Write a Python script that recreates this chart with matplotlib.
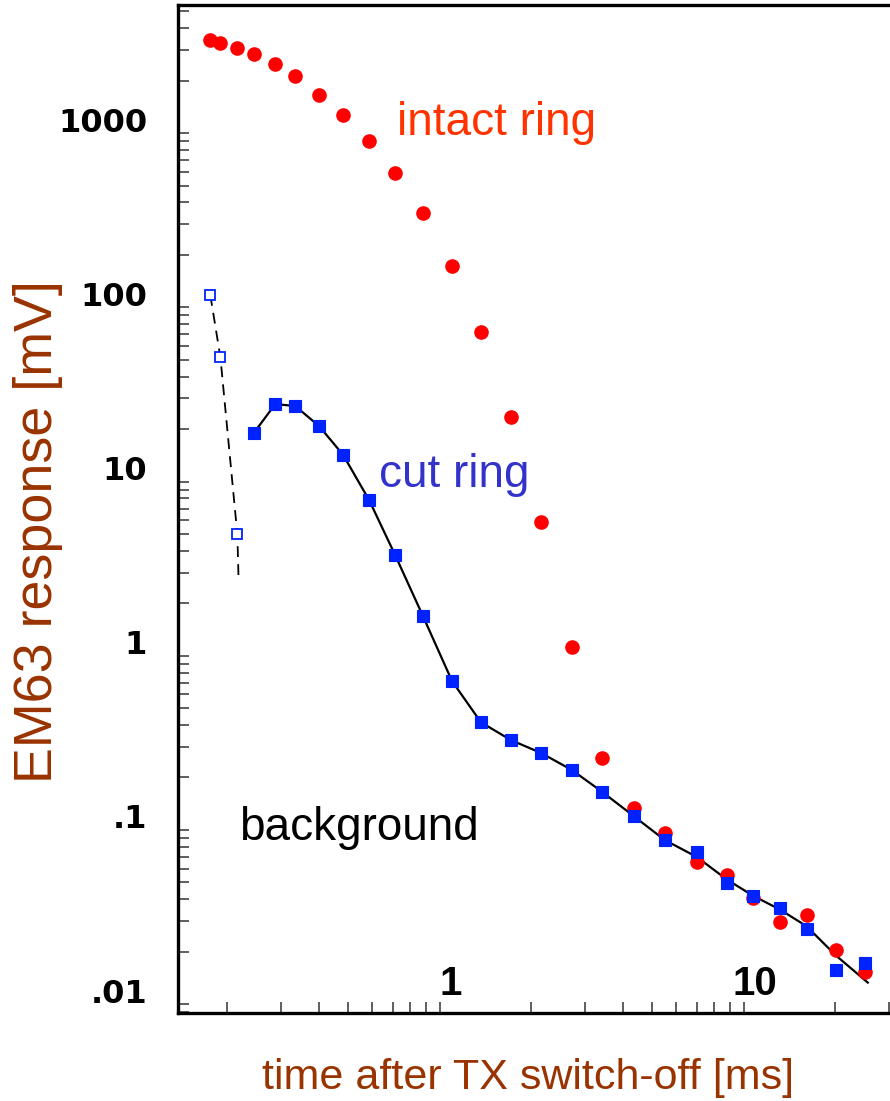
"""EM63 decay curves: intact vs cut ring, log-log."""
import matplotlib
matplotlib.use("Agg")
import matplotlib.pyplot as plt
import matplotlib.transforms as mtrans
from matplotlib.ticker import LogLocator, NullFormatter

# gate times [ms]
t_gates = [0.176, 0.190, 0.216, 0.245, 0.288, 0.335, 0.401, 0.481, 0.586,
           0.713, 0.881, 1.098, 1.367, 1.715, 2.152, 2.721, 3.415, 4.350,
           5.501, 7.009, 8.795, 10.71, 13.13, 16.11, 20.06, 24.98]

# intact ring response [mV], one per gate
intact = [3423, 3304, 3092, 2834, 2493, 2128, 1655, 1265, 901, 588, 346.5,
          172.6, 71.9, 23.55, 5.83, 1.126, 0.259, 0.134, 0.0964, 0.0657,
          0.0551, 0.0406, 0.0297, 0.0325, 0.0204, 0.01535]

# cut ring: early gates (open squares) and the rest (filled)
cut_early_t = [0.176, 0.190, 0.216]
cut_early = [117.7, 51.6, 4.98]
cut_t = t_gates[3:]
cut = [19.06, 27.86, 27.12, 20.83, 14.25, 7.83, 3.80, 1.690, 0.716, 0.415,
       0.328, 0.277, 0.221, 0.166, 0.120, 0.0875, 0.0749, 0.0494, 0.0417,
       0.0355, 0.0269, 0.0157, 0.01715]

# dashed fit through early gates, solid fit through the rest
early_fit_t = [0.176, 0.190, 0.216, 0.218]
early_fit = [117.7, 51.6, 4.98, 2.75]
fit_t = t_gates[3:-1] + [25.6]
fit = [19.06, 27.86, 27.12, 20.83, 14.25, 7.83, 3.80, 1.690, 0.716, 0.415,
       0.328, 0.277, 0.221, 0.166, 0.120, 0.0875, 0.0700, 0.0520, 0.0420,
       0.0350, 0.0280, 0.0191, 0.0133]

xtick_vals = [1, 10]
xtick_text = ["1", "10"]
ytick_vals = [1000, 100, 10, 1, 0.1, 0.01]
ytick_text = ["1000", "100", "10", "1", ".1", ".01"]

BROWN = "#993300"
SANS = ["Liberation Sans", "DejaVu Sans"]

fig = plt.figure(figsize=(8.9, 11.01), dpi=100)
ax = fig.add_axes([0.2, 0.0799, 0.8, 0.9155])
ax.set_xscale("log")
ax.set_yscale("log")
ax.set_xlim(0.1378, 30.3)
ax.set_ylim(0.00889, 5437)

ax.plot(early_fit_t, early_fit, color="black", lw=1.3, ls=(0, (6, 4)), zorder=2)
ax.plot(fit_t, fit, color="black", lw=1.6, zorder=2)
ax.plot(t_gates, intact, "o", color="#ff0000", ms=9.5, mec="#ff0000", zorder=3)
ax.plot(cut_t, cut, "s", color="#0022ff", ms=8.6, mec="#0022ff", mew=0.8, zorder=4)
ax.plot(cut_early_t, cut_early, "s", mfc="white", mec="#0022ff", mew=1.3,
        ms=6.5, zorder=4)

# axes frame
for side in ("left", "bottom", "top"):
    ax.spines[side].set_linewidth(2.4)
ax.spines["right"].set_visible(False)

ax.xaxis.set_major_locator(LogLocator(base=10, numticks=20))
ax.xaxis.set_minor_locator(LogLocator(base=10, subs=range(2, 10), numticks=20))
ax.yaxis.set_major_locator(LogLocator(base=10, numticks=20))
ax.yaxis.set_minor_locator(LogLocator(base=10, subs=range(2, 10), numticks=20))
ax.xaxis.set_major_formatter(NullFormatter())
ax.xaxis.set_minor_formatter(NullFormatter())
ax.yaxis.set_major_formatter(NullFormatter())
ax.yaxis.set_minor_formatter(NullFormatter())
ax.tick_params(which="both", direction="in", length=8, width=1.1,
               color="#333333", top=False, right=False)

# tick labels drawn inside/offset as in the original
xtr = mtrans.blended_transform_factory(ax.transData, ax.transAxes)
for v, s in zip(xtick_vals, xtick_text):
    ax.text(v, 0, s, transform=xtr + mtrans.ScaledTranslation(11 / 100, 18 / 100, fig.dpi_scale_trans),
            ha="center", va="baseline", fontsize=29, fontweight="bold", family=SANS)
ytr = mtrans.blended_transform_factory(ax.transAxes, ax.transData)
for v, s in zip(ytick_vals, ytick_text):
    ax.text(0, v, s, transform=ytr + mtrans.ScaledTranslation(-31 / 100, 10 / 100, fig.dpi_scale_trans),
            ha="right", va="center", fontsize=23, fontweight="heavy", family=["DejaVu Sans"])

ax.text(1.54, 1143, "intact ring", color="#ff3300", fontsize=33,
        family=SANS, ha="center", va="center")
ax.text(1.12, 10.9, "cut ring", color="#3333cc", fontsize=33,
        family=SANS, ha="center", va="center")
ax.text(0.543, 0.1025, "background", color="black", fontsize=33,
        family=SANS, ha="center", va="center")

fig.text(38 / 890, 1 - 532 / 1101, "EM63 response [mV]", rotation=90, color=BROWN,
         fontsize=38.8, family=SANS, ha="center", va="center")
fig.text(528 / 890, 1 - 1078 / 1101, "time after TX switch-off [ms]", color=BROWN,
         fontsize=31, family=SANS, ha="center", va="center")

fig.savefig("out.png", dpi=100)
